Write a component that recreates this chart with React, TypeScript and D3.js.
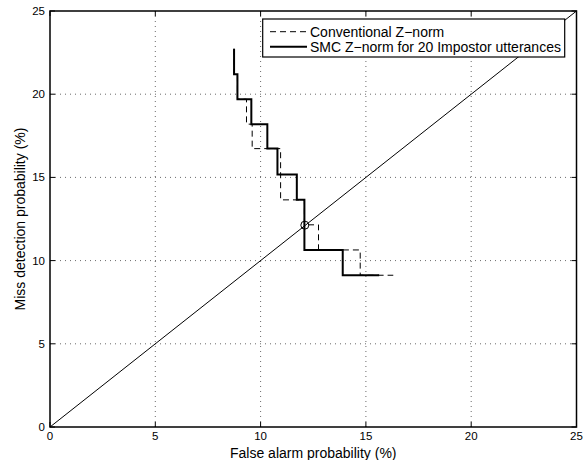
import React from "react";
import * as d3 from "d3";

const W = 585;
const H = 460;

const xTicks = [0, 5, 10, 15, 20, 25];
const yTicks = [0, 5, 10, 15, 20, 25];

// Conventional Z-norm (dashed) DET step vertices: false alarm %, miss %
const convFA = [8.74, 8.74, 8.9, 8.9, 9.33, 9.33, 9.6, 9.6, 10.95, 10.95, 12.08, 12.08, 12.75, 12.75, 14.73, 14.73, 16.3];
const convMiss = [22.73, 21.2, 21.2, 19.7, 19.7, 18.2, 18.2, 16.73, 16.73, 13.65, 13.65, 12.15, 12.15, 10.64, 10.64, 9.12, 9.12];

// SMC Z-norm for 20 impostor utterances (solid)
const smcFA = [8.74, 8.74, 8.9, 8.9, 9.56, 9.56, 10.32, 10.32, 10.8, 10.8, 11.72, 11.72, 12.08, 12.08, 13.9, 13.9, 15.63];
const smcMiss = [22.73, 21.2, 21.2, 19.7, 19.7, 18.2, 18.2, 16.73, 16.73, 15.17, 15.17, 13.65, 13.65, 10.64, 10.64, 9.12, 9.12];

const diagFA = [0, 25];
const diagMiss = [0, 25];

const eerFA = [12.1];
const eerMiss = [12.13];

const legendLabels = ["Conventional Z\u2212norm", "SMC Z\u2212norm for 20 Impostor utterances"];

const FONT = "'Liberation Sans', Arial, Helvetica, sans-serif";

export default function App() {
  const left = 50, right = 576.5, top = 11, bottom = 427;
  const x = d3.scaleLinear().domain([0, 25]).range([left, right]);
  const y = d3.scaleLinear().domain([0, 25]).range([bottom, top]);
  const line = d3.line<[number, number]>().x((d) => x(d[0])).y((d) => y(d[1]));
  const conv = convFA.map((v, i) => [v, convMiss[i]] as [number, number]);
  const smc = smcFA.map((v, i) => [v, smcMiss[i]] as [number, number]);
  const diag = diagFA.map((v, i) => [v, diagMiss[i]] as [number, number]);
  const tickLen = 5;

  const lgX = 262.7, lgY = 19, lgW = 302, lgH = 38;

  return (
    <svg width={W} height={H} style={{ position: "absolute", left: 0, top: 0, background: "#fff" }} fontFamily={FONT}>
      <rect x={0} y={0} width={W} height={H} fill="#fff" />
      {/* grid */}
      {xTicks.slice(1, -1).map((t) => (
        <line key={"gx" + t} x1={x(t)} x2={x(t)} y1={top} y2={bottom} stroke="#444" strokeWidth={0.8} strokeDasharray="1 4" />
      ))}
      {yTicks.slice(1, -1).map((t) => (
        <line key={"gy" + t} x1={left} x2={right} y1={y(t)} y2={y(t)} stroke="#444" strokeWidth={0.8} strokeDasharray="1 4" />
      ))}
      {/* diagonal */}
      <path d={line(diag) || ""} fill="none" stroke="#000" strokeWidth={1} />
      {/* curves */}
      <path d={line(conv) || ""} fill="none" stroke="#000" strokeWidth={1} strokeDasharray="6 4" />
      <path d={line(smc) || ""} fill="none" stroke="#000" strokeWidth={2} />
      {eerFA.map((v, i) => (
        <circle key={"e" + i} cx={x(v)} cy={y(eerMiss[i])} r={4} fill="none" stroke="#000" strokeWidth={1} />
      ))}
      {/* axes box */}
      <rect x={left} y={top} width={right - left} height={bottom - top} fill="none" stroke="#000" strokeWidth={1.5} />
      {xTicks.map((t) => (
        <g key={"xt" + t}>
          <line x1={x(t)} x2={x(t)} y1={bottom} y2={bottom - tickLen} stroke="#000" strokeWidth={1} />
          <line x1={x(t)} x2={x(t)} y1={top} y2={top + tickLen} stroke="#000" strokeWidth={1} />
          <text x={x(t)} y={bottom + 13} textAnchor="middle" fontSize={11.5} fill="#000">{t}</text>
        </g>
      ))}
      {yTicks.map((t) => (
        <g key={"yt" + t}>
          <line x1={left} x2={left + tickLen} y1={y(t)} y2={y(t)} stroke="#000" strokeWidth={1} />
          <line x1={right} x2={right - tickLen} y1={y(t)} y2={y(t)} stroke="#000" strokeWidth={1} />
          <text x={left - 5} y={y(t)} dy="0.35em" textAnchor="end" fontSize={11.5} fill="#000">{t}</text>
        </g>
      ))}
      <text x={(left + right) / 2} y={453} dy="0.35em" textAnchor="middle" fontSize={14} fill="#000">False alarm probability (%)</text>
      <text transform={`translate(20,${(top + bottom) / 2}) rotate(-90)`} dy="0.35em" textAnchor="middle" fontSize={14} fill="#000">Miss detection probability (%)</text>
      {/* legend */}
      <rect x={lgX} y={lgY} width={lgW} height={lgH} fill="#fff" stroke="#000" strokeWidth={1.2} />
      <line x1={270} x2={307} y1={31.7} y2={31.7} stroke="#000" strokeWidth={1} strokeDasharray="6 4" />
      <line x1={270} x2={307} y1={46.7} y2={46.7} stroke="#000" strokeWidth={2} />
      {legendLabels.map((l, i) => (
        <text key={l} x={310} y={31.7 + i * 15} dy="0.35em" fontSize={14} fill="#000">{l}</text>
      ))}
    </svg>
  );
}
